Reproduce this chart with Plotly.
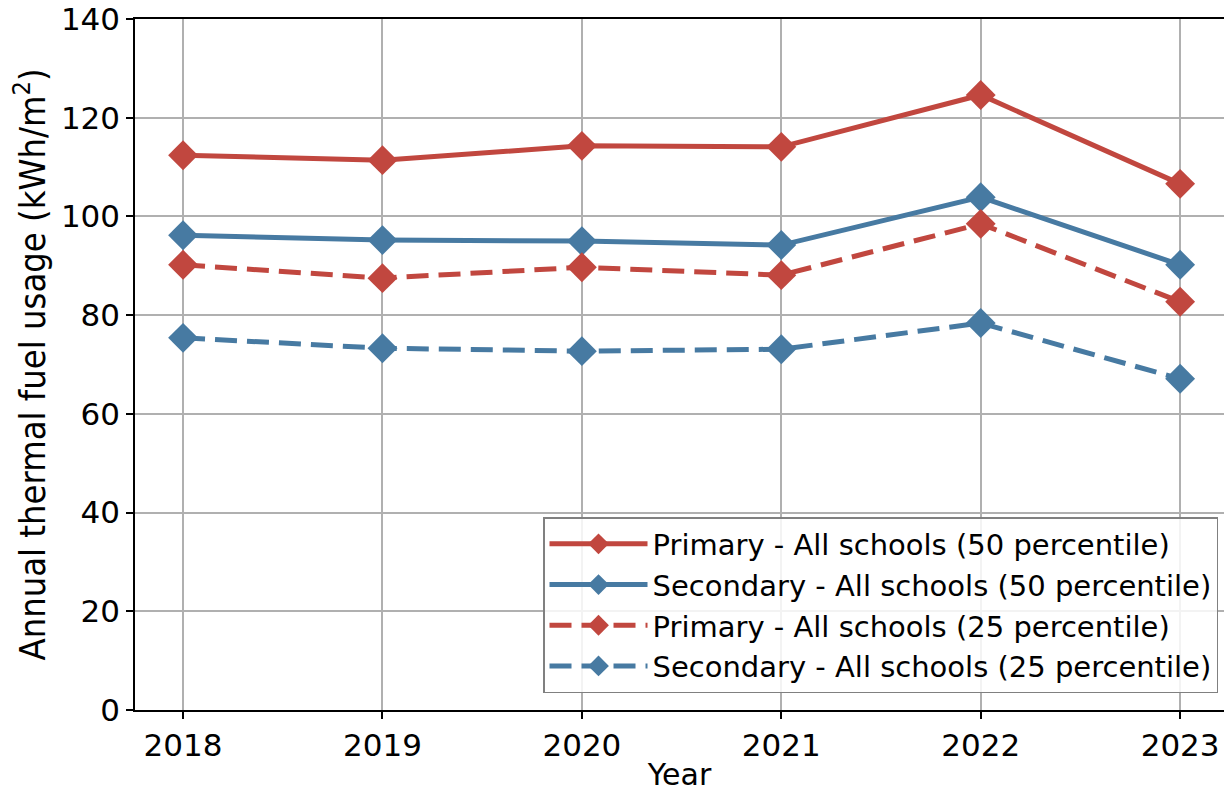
import plotly.graph_objects as go

years = [2018, 2019, 2020, 2021, 2022, 2023]
primary_50 = [112.4, 111.4, 114.3, 114.1, 124.6, 106.6]
secondary_50 = [96.2, 95.2, 95.0, 94.2, 103.9, 90.2]
primary_25 = [90.2, 87.5, 89.7, 88.1, 98.5, 82.7]
secondary_25 = [75.4, 73.3, 72.7, 73.1, 78.4, 67.1]

names = [
    "Primary - All schools (50 percentile)",
    "Secondary - All schools (50 percentile)",
    "Primary - All schools (25 percentile)",
    "Secondary - All schools (25 percentile)",
]
RED = "#c1473f"
BLUE = "#477aa2"
series = [
    (primary_50, RED, "solid"),
    (secondary_50, BLUE, "solid"),
    (primary_25, RED, "22px,10px"),
    (secondary_25, BLUE, "22px,10px"),
]

fig = go.Figure()
for name, (vals, col, dash) in zip(names, series):
    fig.add_trace(go.Scatter(
        x=years, y=vals, name=name, mode="lines+markers",
        line=dict(color=col, width=5, dash=dash),
        marker=dict(symbol="diamond", size=23, color=col),
    ))

FONT = "DejaVu Sans"
fig.update_layout(
    width=1224, height=792,
    margin=dict(l=135, r=0, t=19, b=82),
    plot_bgcolor="white", paper_bgcolor="white",
    font=dict(family=FONT, size=31, color="black"),
    showlegend=True,
    legend=dict(
        x=0.9945, y=0.0246, xanchor="right", yanchor="bottom",
        bgcolor="rgba(255,255,255,0.85)", bordercolor="#808080", borderwidth=1.5,
        font=dict(family=FONT, size=29), tracegroupgap=0, itemwidth=98,
    ),
    xaxis=dict(
        range=[2017.759, 2023.22], tickmode="array", tickvals=years,
        ticktext=[str(y) for y in years],
        showgrid=True, gridcolor="#b0b0b0", gridwidth=1.5,
        showline=True, linecolor="black", linewidth=1.5, mirror=True,
        ticks="outside", ticklen=7, tickwidth=1.5, tickcolor="black",
        tickfont=dict(family=FONT, size=31),
        title=dict(text="Year", font=dict(family=FONT, size=30), standoff=8),
        zeroline=False,
    ),
    yaxis=dict(
        range=[0, 140], tickmode="array", tickvals=[0, 20, 40, 60, 80, 100, 120, 140],
        showgrid=True, gridcolor="#b0b0b0", gridwidth=1.5,
        showline=True, linecolor="black", linewidth=1.5,
        ticks="outside", ticklen=7, tickwidth=1.5, tickcolor="black",
        tickfont=dict(family=FONT, size=31),
        title=dict(text="Annual thermal fuel usage (kWh/m<sup>2</sup>)",
                   font=dict(family="DejaVu Sans Condensed, DejaVu Sans", size=36), standoff=4),
        zeroline=False,
    ),
)
fig.write_html("out.html")
